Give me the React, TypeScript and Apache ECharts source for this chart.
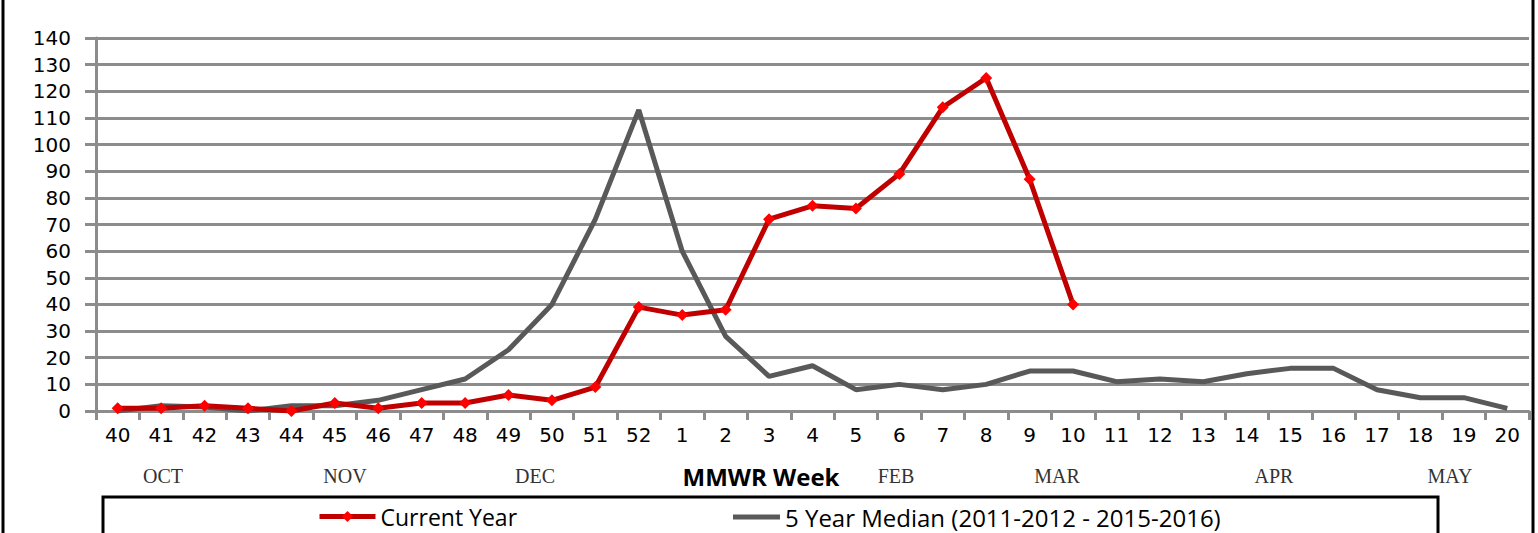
import React, { useEffect, useRef } from "react";
import * as echarts from "echarts";

const weeks = ["40","41","42","43","44","45","46","47","48","49","50","51","52","1","2","3","4","5","6","7","8","9","10","11","12","13","14","15","16","17","18","19","20"];
const currentYear = [1,1,2,1,0,3,1,3,3,6,4,9,39,36,38,72,77,76,89,114,125,87,40];
const median = [0,2,1.5,0,2,2,4,8,12,23,40,72,113,60,28,13,17,8,10,8,10,15,15,11,12,11,14,16,16,8,5,5,1];
const yTicks = { min: 0, max: 140, interval: 10 };
const months = [
  { name: "OCT", x: 163 },
  { name: "NOV", x: 345 },
  { name: "DEC", x: 535 },
  { name: "FEB", x: 896 },
  { name: "MAR", x: 1057 },
  { name: "APR", x: 1274 },
  { name: "MAY", x: 1450 },
];
const seriesNames = ["Current Year", "5 Year Median (2011-2012 - 2015-2016)"];

export default function App() {
  const ref = useRef<HTMLDivElement>(null);
  useEffect(() => {
    document.body.style.margin = "0";
    const chart = echarts.init(ref.current!, null, { renderer: "svg" });
    const font = "'Open Sans', Lato, sans-serif";
    const axisFont = "'DejaVu Sans', 'Open Sans', sans-serif";
    chart.setOption({
      animation: false,
      backgroundColor: "#ffffff",
      grid: { left: 96, right: 9, top: 38, bottom: 122, containLabel: false },
      xAxis: {
        type: "category",
        data: weeks,
        boundaryGap: true,
        axisLine: { lineStyle: { color: "#8c8c8c", width: 3 } },
        axisTick: { show: true, length: 9, lineStyle: { color: "#8c8c8c", width: 3 } },
        axisLabel: { color: "#000", fontSize: 20, fontFamily: axisFont, margin: 14, interval: 0 },
        splitLine: { show: false },
      },
      yAxis: {
        type: "value",
        min: yTicks.min,
        max: yTicks.max,
        interval: yTicks.interval,
        axisLine: { show: true, lineStyle: { color: "#8c8c8c", width: 3 } },
        axisTick: { show: true, length: 11, lineStyle: { color: "#8c8c8c", width: 3 } },
        axisLabel: { color: "#000", fontSize: 20, fontFamily: axisFont, margin: 25 },
        splitLine: { show: true, lineStyle: { color: "#8c8c8c", width: 3 } },
      },
      legend: [
        {
          data: [seriesNames[0]],
          left: 312,
          top: 500,
          itemWidth: 56,
          itemHeight: 14,
          itemGap: 0,
          lineStyle: { width: 5 },
          textStyle: { fontSize: 23, fontFamily: font, color: "#000" },
        },
        {
          data: [{ name: seriesNames[1], icon: "rect" }],
          left: 728,
          top: 500,
          itemWidth: 47,
          itemHeight: 5,
          textStyle: { fontSize: 24, fontFamily: font, color: "#000" },
        },
      ],
      series: [
        {
          name: seriesNames[1],
          type: "line",
          data: median,
          symbol: "none",
          lineStyle: { color: "#595959", width: 5 },
          itemStyle: { color: "#595959" },
          z: 2,
        },
        {
          name: seriesNames[0],
          type: "line",
          data: currentYear,
          symbol: "diamond",
          symbolSize: 12,
          lineStyle: { color: "#c00000", width: 5 },
          itemStyle: { color: "#ff0000" },
          z: 3,
        },
      ],
      graphic: [
        { type: "line", shape: { x1: 3, y1: 0, x2: 3, y2: 533 }, style: { stroke: "#000", lineWidth: 3 } },
        { type: "line", shape: { x1: 1533, y1: 0, x2: 1533, y2: 533 }, style: { stroke: "#000", lineWidth: 3 } },
        { type: "rect", shape: { x: 103, y: 497, width: 1335, height: 45 }, style: { fill: "none", stroke: "#000", lineWidth: 3 } },
        ...months.map((m) => ({
          type: "text",
          x: m.x,
          y: 476,
          style: { text: m.name, fontSize: 20, fontFamily: "'Liberation Serif', serif", fill: "#333", align: "center", verticalAlign: "middle" },
        })),
        {
          type: "text",
          x: 761,
          y: 476,
          style: { text: "MMWR Week", fontSize: 24, fontWeight: "bold", fontFamily: font, fill: "#000", align: "center", verticalAlign: "middle" },
        },
      ],
    });
    return () => chart.dispose();
  }, []);
  return <div ref={ref} style={{ width: 1538, height: 533 }} />;
}
